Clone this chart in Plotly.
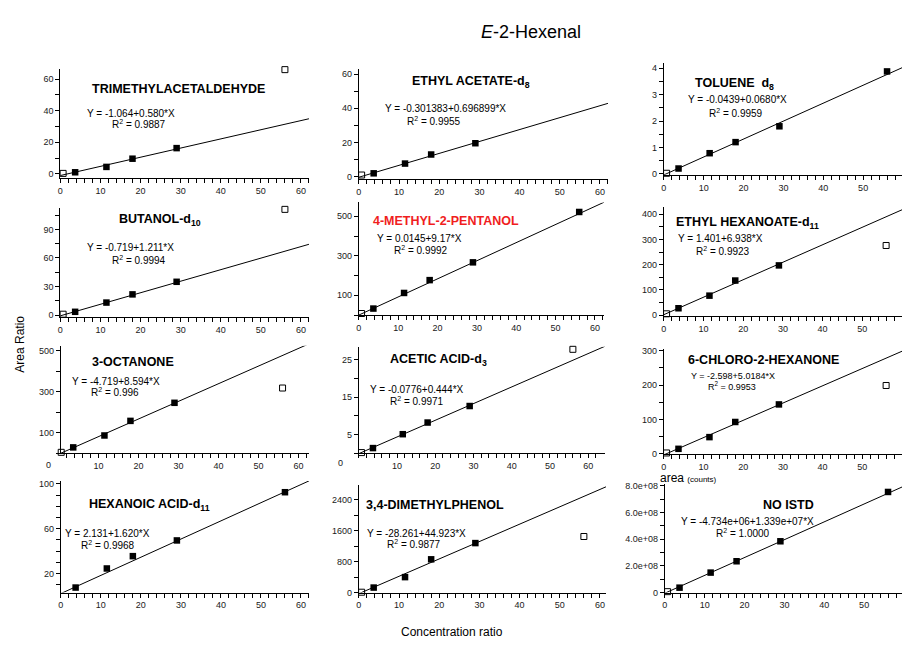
import plotly.graph_objects as go

W, H = 902, 645
FONT = "Liberation Sans, Arial, Helvetica, sans-serif"

# ---------------- data ----------------
conc_ratio = [0.7, 3.7, 11.5, 18.0, 29.0, 56.0]

compounds = [
    "TRIMETHYLACETALDEHYDE", "ETHYL ACETATE-d<sub>8</sub>", "TOLUENE  d<sub>8</sub>",
    "BUTANOL-d<sub>10</sub>", "4-METHYL-2-PENTANOL", "ETHYL HEXANOATE-d<sub>11</sub>",
    "3-OCTANONE", "ACETIC ACID-d<sub>3</sub>", "6-CHLORO-2-HEXANONE",
    "HEXANOIC ACID-d<sub>11</sub>", "3,4-DIMETHYLPHENOL", "NO ISTD",
]

trimethylacetaldehyde = [0.3, 1.0, 4.4, 9.6, 16.3, 66.0]
ethyl_acetate_d8 = [1.0, 2.0, 7.7, 13.0, 19.6, 63.0]
toluene_d8 = [0.02, 0.2, 0.78, 1.2, 1.8, 3.88]
butanol_d10 = [1.0, 3.5, 13.2, 21.8, 35.0, 111.0]
methyl_pentanol = [8, 33, 112, 177, 267, 522]
ethyl_hexanoate_d11 = [5, 27, 77, 137, 197, 276]
octanone = [5, 29, 87, 158, 246, 318]
acetic_acid_d3 = [0.2, 1.4, 5.1, 8.2, 12.6, 27.7]
chloro_hexanone = [3, 15, 49, 93, 144, 199]
hexanoic_acid_d11 = [2.5, 7.5, 24.5, 35.5, 49.5, 92.5]
dimethylphenol = [10, 130, 400, 860, 1280, 1450]
no_istd_area = [0.07e8, 0.37e8, 1.5e8, 2.35e8, 3.85e8, 7.55e8]

series = [trimethylacetaldehyde, ethyl_acetate_d8, toluene_d8, butanol_d10,
          methyl_pentanol, ethyl_hexanoate_d11, octanone, acetic_acid_d3,
          chloro_hexanone, hexanoic_acid_d11, dimethylphenol, no_istd_area]

# points left out of each fit (drawn hollow)
excluded = [[0, 5], [0, 5], [0], [0, 5], [0], [0, 5], [0, 5], [0, 5], [0, 5], [0], [0, 5], [0]]

intercepts = ["-1.064", "-0.301383", "-0.0439", "-0.719", "0.0145", "1.401",
              "-4.719", "-0.0776", "-2.598", "2.131", "-28.261", "-4.734e+06"]
slopes = ["0.580", "0.696899", "0.0680", "1.211", "9.17", "6.938",
          "8.594", "0.444", "5.0184", "1.620", "44.923", "1.339e+07"]
r_squared = ["0.9887", "0.9955", "0.9959", "0.9994", "0.9992", "0.9923",
             "0.996", "0.9971", "0.9953", "0.9968", "0.9877", "1.0000"]

# y tick layout per panel: (step, first, last, labelled values, label format)
y_ticks = [
    (10, 0, 60, [0, 20, 40, 60], "{:g}"),
    (10, 0, 60, [0, 20, 40, 60], "{:g}"),
    (0.5, 0, 4, [0, 1, 2, 3, 4], "{:g}"),
    (15, 0, 105, [0, 30, 60, 90], "{:g}"),
    (100, 0, 500, [100, 300, 500], "{:g}"),
    (50, 0, 400, [0, 100, 200, 300, 400], "{:g}"),
    (100, 0, 500, [100, 300, 500], "{:g}"),
    (5, 0, 25, [5, 15, 25], "{:g}"),
    (50, 0, 300, [0, 100, 200, 300], "{:g}"),
    (10, 10, 100, [20, 60, 100], "{:g}"),
    (400, 0, 2400, [0, 800, 1600, 2400], "{:g}"),
    (1e8, 0, 8e8, [0, 2e8, 4e8, 6e8, 8e8], "sci"),
]

# ---------------- geometry (pixels) ----------------
# x domain (left, right), y domain (bottom, top), x range, y range
panels = [
    ((57.5, 307), (177, 67), (0, 62), (-2.5, 66.3)),
    ((357, 607), (178, 67), (0, 62), (-1.2, 62.9)),
    ((663, 902), (174, 61), (0, 59.75), (-0.04, 4.19)),
    ((57.5, 307), (318, 208), (0, 62), (-2.0, 112)),
    ((357, 603), (316, 202), (0, 62.3), (0, 570)),
    ((663, 902), (317, 207), (0, 60), (-4, 427)),
    ((58, 307), (456, 347), (0.6, 62.6), (0, 524)),
    ((357, 604), (456, 348), (0, 64.4), (0, 28.4)),
    ((663, 902), (457, 350), (0, 60), (-1, 306)),
    ((58, 307), (597, 484), (0, 62), (3.0, 102.5)),
    ((357, 605), (597, 488), (0, 61.5), (0, 2783)),
    ((664, 902), (597, 487), (0, 59.5), (0, 8.15e8)),
]
hide_x_zero = [False, False, False, False, False, False, True, True, False, False, False, False]

title_pos = [(176, 87), (470, 80), (734, 82), (158, 220), (444, 221), (747, 223),
             (130, 364), (437, 361), (763, 361), (147, 508), (433, 508), (788, 508)]
eq_pos = [(128, 112), (444, 107), (737, 98), (128, 248), (418, 238), (720, 238),
          (113, 383), (415, 391), (732, 378), (105, 537), (415, 537), (747, 525)]
r2_pos = [(136, 123), (432, 119), (735, 111), (136, 260), (419, 250), (722, 251),
          (112, 394), (415, 403), (731, 388), (105, 549), (412, 548), (742, 537)]
title_colors = ["black"] * 12
title_colors[4] = "#f01e1e"
eq_size = [10] * 12
eq_size[8] = 9


def fx(p):
    return p / W


def fy(p):
    return 1 - p / H


def sci(v):
    if v == 0:
        return "0"
    m = v / 1e8
    return f"{m:.1f}e+08"


fig = go.Figure()
layout = {}
annotations = []

for i in range(12):
    n = i + 1
    xa = "x" if n == 1 else f"x{n}"
    ya = "y" if n == 1 else f"y{n}"
    (xl, xr), (yb, yt), xrng, yrng = panels[i]
    vals = series[i]
    a = float(intercepts[i])
    b = float(slopes[i])

    # regression line across the whole axis
    lx = [xrng[0], xrng[1]]
    ly = [a + b * v for v in lx]
    fig.add_trace(go.Scatter(x=lx, y=ly, xaxis=xa, yaxis=ya, mode="lines",
                             line=dict(color="black", width=1), showlegend=False,
                             hoverinfo="skip"))

    used_x = [c for k, c in enumerate(conc_ratio) if k not in excluded[i]]
    used_y = [v for k, v in enumerate(vals) if k not in excluded[i]]
    out_x = [c for k, c in enumerate(conc_ratio) if k in excluded[i]]
    out_y = [v for k, v in enumerate(vals) if k in excluded[i]]

    fig.add_trace(go.Scatter(x=used_x, y=used_y, xaxis=xa, yaxis=ya, mode="markers",
                             marker=dict(symbol="square", size=6.5, color="black"),
                             cliponaxis=False, showlegend=False))
    fig.add_trace(go.Scatter(x=out_x, y=out_y, xaxis=xa, yaxis=ya, mode="markers",
                             marker=dict(symbol="square-open", size=6, color="black",
                                         line=dict(width=1, color="black")),
                             cliponaxis=False, showlegend=False))

    # x ticks every 2, labels every 10
    xt = list(range(0, 64, 2))
    xtxt = [str(v) if v % 10 == 0 else "" for v in xt]
    if hide_x_zero[i]:
        xtxt[0] = ""

    step, y0, y1, labelled, fmt = y_ticks[i]
    nt = int(round((y1 - y0) / step))
    yt_vals = [y0 + k * step for k in range(nt + 1)]
    yt_txt = []
    for v in yt_vals:
        if any(abs(v - lv) < step * 1e-6 for lv in labelled):
            yt_txt.append(sci(v) if fmt == "sci" else fmt.format(v))
        else:
            yt_txt.append("")

    axis_common = dict(showline=True, linecolor="black", linewidth=1, ticks="outside",
                       ticklen=4, tickwidth=1, tickcolor="black", showgrid=False,
                       zeroline=False, tickfont=dict(size=9, color="#1a1a1a", family=FONT),
                       fixedrange=True, tickmode="array")
    layout["xaxis" if n == 1 else f"xaxis{n}"] = dict(
        domain=[fx(xl), fx(xr)], range=list(xrng), anchor=ya,
        tickvals=xt, ticktext=xtxt, **axis_common)
    layout["yaxis" if n == 1 else f"yaxis{n}"] = dict(
        domain=[fy(yb), fy(yt)], range=list(yrng), anchor=xa,
        tickvals=yt_vals, ticktext=yt_txt, **axis_common)

    annotations.append(dict(x=fx(title_pos[i][0]), y=fy(title_pos[i][1]), xref="paper",
                            yref="paper", text=f"<b>{compounds[i]}</b>", showarrow=False,
                            xanchor="center", yanchor="middle",
                            font=dict(size=12.5, color=title_colors[i], family=FONT)))
    annotations.append(dict(x=fx(eq_pos[i][0]), y=fy(eq_pos[i][1]), xref="paper",
                            yref="paper", text=f"Y = {intercepts[i]}+{slopes[i]}*X",
                            showarrow=False, xanchor="center", yanchor="middle",
                            font=dict(size=eq_size[i], color="black", family=FONT)))
    annotations.append(dict(x=fx(r2_pos[i][0]), y=fy(r2_pos[i][1]), xref="paper",
                            yref="paper", text=f"R<sup>2</sup> = {r_squared[i]}",
                            showarrow=False, xanchor="center", yanchor="middle",
                            font=dict(size=eq_size[i], color="black", family=FONT)))

# corner zero labels for panels whose axes meet at the origin
for n, (px, py) in ((7, (46, 468)), (8, (339, 466))):
    annotations.append(dict(x=fx(px), y=fy(py), xref="paper", yref="paper", text="0",
                            showarrow=False, xanchor="center", yanchor="middle",
                            font=dict(size=9, color="#1a1a1a", family=FONT)))

annotations += [
    dict(x=fx(530), y=fy(29), xref="paper", yref="paper", text="<i>E</i>-2-Hexenal",
         showarrow=False, xanchor="center", yanchor="middle",
         font=dict(size=18, color="black", family=FONT)),
    dict(x=fx(17), y=fy(345), xref="paper", yref="paper", text="Area Ratio",
         showarrow=False, textangle=-90, xanchor="center", yanchor="middle",
         font=dict(size=12, color="black", family=FONT)),
    dict(x=fx(450), y=fy(637), xref="paper", yref="paper", text="Concentration ratio",
         showarrow=False, xanchor="center", yanchor="middle",
         font=dict(size=12, color="black", family=FONT)),
    dict(x=fx(657), y=fy(481), xref="paper", yref="paper",
         text="area <span style='font-size:8px'>(counts)</span>",
         showarrow=False, xanchor="left", yanchor="middle",
         font=dict(size=12, color="black", family=FONT)),
]

fig.update_layout(width=W, height=H, margin=dict(l=0, r=0, t=0, b=0),
                  paper_bgcolor="white", plot_bgcolor="white",
                  font=dict(family=FONT, color="black"),
                  annotations=annotations, showlegend=False, **layout)

fig.write_html("out.html", config={"displayModeBar": False})
